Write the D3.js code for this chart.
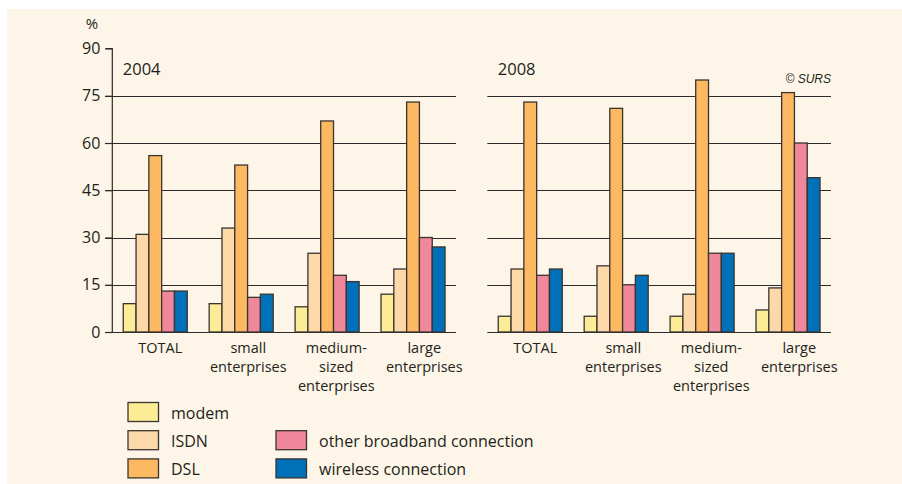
<!DOCTYPE html>
<html>
<head>
<meta charset="utf-8">
<script src="https://cdn.jsdelivr.net/npm/d3@7"></script>
<style>
  html, body { margin: 0; padding: 0; background: #ffffff; }
  svg { display: block; }
  text { font-family: "Open Sans", "Noto Sans", sans-serif; fill: #231f20; }
</style>
</head>
<body>
<svg id="chart" width="902" height="484"></svg>
<script>
// Internet connection types of enterprises, share in %
const years = ["2004", "2008"];
const categories = ["TOTAL", "small enterprises", "medium-sized enterprises", "large enterprises"];
const categoryLines = [["TOTAL"], ["small", "enterprises"], ["medium-", "sized", "enterprises"], ["large", "enterprises"]];
const seriesNames = ["modem", "ISDN", "DSL", "other broadband connection", "wireless connection"];
const seriesColors = ["#fdec96", "#fdd8a8", "#fcb962", "#f0889c", "#0070b9"];

// values per category, in series order: modem, ISDN, DSL, other broadband, wireless
const values2004 = [
  [9, 31, 56, 13, 13],
  [9, 33, 53, 11, 12],
  [8, 25, 67, 18, 16],
  [12, 20, 73, 30, 27]
];
const values2008 = [
  [5, 20, 73, 18, 20],
  [5, 21, 71, 15, 18],
  [5, 12, 80, 25, 25],
  [7, 14, 76, 60, 49]
];
const yTicks = [0, 15, 30, 45, 60, 75, 90];
const gridTicks = [0, 15, 30, 45, 60, 75];

const svg = d3.select("#chart");

// cream backdrop
svg.append("rect")
  .attr("x", 7).attr("y", 9)
  .attr("width", 895).attr("height", 475)
  .attr("fill", "#fdf5e7");

const y = d3.scaleLinear().domain([0, 90]).range([332, 48.5]);

const panels = [
  { year: years[0], data: values2004, x0: 112.3, x1: 456, gridStart: 105, axis: true },
  { year: years[1], data: values2008, x0: 487.3, x1: 831, gridStart: 487.3, axis: false }
];

panels.forEach(p => {
  const g = svg.append("g");
  const x = d3.scaleBand().domain(categories).range([p.x0, p.x1]).paddingInner(0.255).paddingOuter(0.1275);
  const xs = d3.scaleBand().domain(seriesNames).range([0, x.bandwidth()]);
  // label positions sit on a slightly wider spacing than the bars
  const xl = d3.scaleBand().domain(categories).range([p.x0 + 4, p.x0 + 4 + 4 * 88]);

  // horizontal gridlines
  g.selectAll("line.grid").data(gridTicks).join("line")
    .attr("x1", p.gridStart).attr("x2", p.x1)
    .attr("y1", d => Math.round(y(d)) + 0.5).attr("y2", d => Math.round(y(d)) + 0.5)
    .attr("stroke", "#2b2b2b").attr("stroke-width", 1.2);

  if (p.axis) {
    const axis = d3.axisLeft(y).tickValues(yTicks).tickSize(7).tickPadding(5);
    const ag = g.append("g").attr("transform", `translate(${p.x0},0)`).call(axis);
    ag.select(".domain").attr("stroke", "#2b2b2b").attr("stroke-width", 1.2)
      .attr("d", `M-7,${y(90)}H0V${y(0)}`);
    ag.selectAll(".tick line").attr("stroke", "#2b2b2b").attr("stroke-width", 1.2);
    ag.selectAll(".tick text")
      .style("font-family", "\"Open Sans\", \"Noto Sans\", sans-serif")
      .style("font-size", "16px").attr("fill", "#231f20");
    g.append("text").attr("x", 92).attr("y", 29)
      .attr("text-anchor", "middle").style("font-size", "15px").text("%");
  }

  // year title
  g.append("text").attr("x", p.x0 + 10.5).attr("y", 75)
    .style("font-size", "16.5px").text(p.year);

  // bars
  const groups = g.selectAll("g.cat").data(p.data).join("g")
    .attr("transform", (d, i) => `translate(${x(categories[i])},0)`);
  groups.selectAll("rect").data(d => d).join("rect")
    .attr("x", (d, j) => xs(seriesNames[j]))
    .attr("width", xs.bandwidth())
    .attr("y", d => y(d))
    .attr("height", d => y(0) - y(d))
    .attr("fill", (d, j) => seriesColors[j])
    .attr("stroke", "#3a3430").attr("stroke-width", 1.3);

  // category labels, one text per line
  categories.forEach((c, i) => {
    categoryLines[i].forEach((line, k) => {
      g.append("text")
        .attr("x", xl(c) + xl.bandwidth() / 2)
        .attr("y", 353 + k * 19)
        .attr("text-anchor", "middle")
        .style("font-size", "14.5px")
        .text(line);
    });
  });

  if (!p.axis) {
    g.append("text").attr("x", 831).attr("y", 83)
      .attr("text-anchor", "end")
      .style("font-family", "\"Liberation Sans\", Arial, sans-serif")
      .style("font-style", "italic").style("font-size", "12px")
      .text("\u00a9 SURS");
  }
});

// legend
const legendPos = [
  { col: 0, row: 0 }, { col: 0, row: 1 }, { col: 0, row: 2 },
  { col: 1, row: 1 }, { col: 1, row: 2 }
];
const legend = svg.append("g");
seriesNames.forEach((name, i) => {
  const lx = legendPos[i].col === 0 ? 128 : 276;
  const ly = 402.5 + legendPos[i].row * 28.2;
  legend.append("rect")
    .attr("x", lx).attr("y", ly).attr("width", 30.5).attr("height", 19)
    .attr("fill", seriesColors[i]).attr("stroke", "#3a3430").attr("stroke-width", 1.3);
  legend.append("text")
    .attr("x", lx + 43).attr("y", ly + 16.5)
    .style("font-size", "16px").text(name);
});
</script>
</body>
</html>
